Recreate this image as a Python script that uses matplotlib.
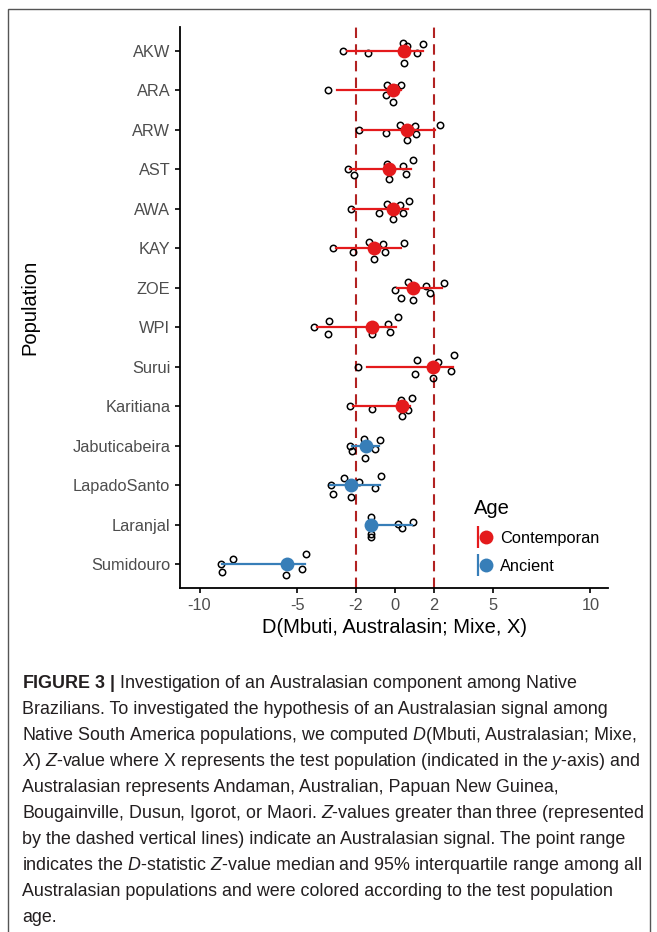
import matplotlib
matplotlib.use('Agg')
import matplotlib.pyplot as plt
from matplotlib import font_manager
from matplotlib.lines import Line2D
from matplotlib.legend_handler import HandlerTuple
from matplotlib.patches import Rectangle

# population order (top to bottom) and their age class
populations = ['AKW', 'ARA', 'ARW', 'AST', 'AWA', 'KAY', 'ZOE', 'WPI', 'Surui',
               'Karitiana', 'Jabuticabeira', 'LapadoSanto', 'Laranjal', 'Sumidouro']
ages = ['Contemporan'] * 10 + ['Ancient'] * 4

# point range: median and interval
median_z = [0.46, -0.08, 0.60, -0.32, -0.08, -1.07, 0.94, -1.16, 1.96, 0.34, -1.50, -2.25, -1.25, -5.54]
low_z = [-2.47, -2.95, -1.70, -2.30, -2.13, -3.02, 0.09, -4.01, -1.45, -2.13, -2.22, -3.32, -1.30, -8.87]
high_z = [1.42, 0.30, 2.05, 0.82, 0.68, 0.31, 2.39, 0.05, 2.95, 0.77, -0.82, -0.77, 0.85, -4.60]

# Z-values for each Australasian population (7 per test population)
point_z = [
    [-2.64, -1.40, 0.43, 0.60, 1.14, 1.45, 0.44],
    [-3.41, -0.39, 0.31, -0.46, -0.08, -0.15, 0.05],
    [-1.82, -0.48, 0.26, 1.02, 1.06, 0.60, 2.30],
    [-2.42, -2.08, -0.43, 0.43, 0.90, 0.56, -0.31],
    [-2.27, -0.80, -0.39, 0.26, 0.73, 0.43, -0.08],
    [-3.16, -2.17, -1.31, -0.60, 0.46, -0.49, -1.07],
    [0.00, 0.65, 1.59, 1.79, 2.51, 0.31, 0.94],
    [-4.13, -3.38, -3.41, -1.16, -0.38, -0.24, 0.14],
    [-1.91, 1.11, 1.02, 2.22, 2.85, 3.02, 1.96],
    [-2.30, -1.19, 0.31, 0.85, 0.68, 0.36, 0.40],
    [-2.30, -2.18, -1.59, -1.01, -0.77, -1.52, -1.45],
    [-3.29, -3.19, -2.59, -1.82, -1.01, -0.70, -2.25],
    [-1.25, -1.25, -1.25, 0.17, 0.34, 0.90, -1.30],
    [-8.92, -8.87, -8.27, -5.58, -4.74, -4.57, -5.50],
]
# vertical jitter of those points (in rows, + is down)
jitter = [
    [0, 0.07, -0.20, -0.13, 0.07, -0.18, 0.30],
    [0, -0.13, -0.12, 0.12, 0.30, 0.03, -0.05],
    [0, 0.08, -0.12, -0.10, 0.11, 0.25, -0.12],
    [0, 0.14, -0.14, -0.08, -0.24, 0.12, 0.26],
    [0, 0.12, -0.13, -0.10, -0.20, 0.10, 0.25],
    [0, 0.10, -0.15, -0.11, -0.13, 0.10, 0.27],
    [0.05, -0.15, -0.05, 0.14, -0.12, 0.25, 0.30],
    [0, -0.15, 0.17, 0.17, -0.08, 0.11, -0.25],
    [0, -0.18, 0.19, -0.11, 0.10, -0.29, 0.28],
    [0, 0.06, -0.15, -0.21, 0.10, 0.25, -0.05],
    [0, 0.13, -0.18, 0.07, -0.14, 0.30, 0],
    [0, 0.21, -0.18, -0.08, 0.08, -0.23, 0.30],
    [-0.20, 0.24, 0.32, -0.03, 0.07, -0.08, 0],
    [0, 0.19, -0.14, 0.26, 0.11, -0.25, 0],
]

age_colors = {'Contemporan': '#E41A1C', 'Ancient': '#377EB8'}
threshold = 2

caption = [
    r'$\mathbf{FIGURE\ 3\ |}$ Investigation of an Australasian component among Native',
    'Brazilians. To investigated the hypothesis of an Australasian signal among',
    r'Native South America populations, we computed $\mathit{D}$(Mbuti, Australasian; Mixe,',
    r'$\mathit{X}$) $\mathit{Z}$-value where X represents the test population (indicated in the $\mathit{y}$-axis) and',
    'Australasian represents Andaman, Australian, Papuan New Guinea,',
    r'Bougainville, Dusun, Igorot, or Maori. $\mathit{Z}$-values greater than three (represented',
    'by the dashed vertical lines) indicate an Australasian signal. The point range',
    r'indicates the $\mathit{D}$-statistic $\mathit{Z}$-value median and 95% interquartile range among all',
    'Australasian populations and were colored according to the test population',
    'age.',
]

# fonts
names = {f.name for f in font_manager.fontManager.ttflist}
cap_font = 'Liberation Sans Narrow' if 'Liberation Sans Narrow' in names else 'Liberation Sans'
plt.rcParams['font.family'] = ['Liberation Sans', 'DejaVu Sans']
plt.rcParams['axes.unicode_minus'] = False
plt.rcParams['mathtext.fontset'] = 'custom'
plt.rcParams['mathtext.it'] = cap_font + ':italic'
plt.rcParams['mathtext.rm'] = cap_font
plt.rcParams['mathtext.bf'] = 'Liberation Sans:bold'

W, H = 657, 932
fig = plt.figure(figsize=(W / 100, H / 100), dpi=100)
ax = fig.add_axes([180 / W, 1 - 588 / H, (608 - 180) / W, (588 - 27) / H])

rows = list(range(len(populations)))

# jittered raw points
for i in rows:
    ys = [i + j for j in jitter[i]]
    ax.plot(point_z[i], ys, 'o', ls='none', mfc='none', mec='black',
            ms=4.6, mew=1.1, zorder=2)

# dashed threshold lines
for t in (-threshold, threshold):
    ax.axvline(t, color='#B22222', lw=1.5, ls=(0, (5, 3)), zorder=1)

# point ranges
for i in rows:
    c = age_colors[ages[i]]
    ax.plot([low_z[i], high_z[i]], [i, i], color=c, lw=1.6, zorder=3)
    ax.plot(median_z[i], i, 'o', color=c, ms=10, mew=0, zorder=4)

ax.set_xlim(-11.0, 10.9)
ax.set_ylim(len(populations) - 0.4, -0.6)
ax.set_xticks([-10, -5, -2, 0, 2, 5, 10])
ax.set_yticks(rows)
ax.set_yticklabels(populations)
ax.tick_params(labelsize=11.8, colors='#4D4D4D', length=3.5, width=1.2)
ax.tick_params(axis='both', color='black')
for s in ['top', 'right']:
    ax.spines[s].set_visible(False)
for s in ['left', 'bottom']:
    ax.spines[s].set_linewidth(1.3)
ax.set_xlabel('D(Mbuti, Australasin; Mixe, X)', fontsize=14.5, labelpad=4)
ax.set_ylabel('Population', fontsize=14.5, labelpad=24)

handles = []
labels = []
for age in ['Contemporan', 'Ancient']:
    c = age_colors[age]
    bar = Line2D([], [], ls='none', marker='|', color=c, ms=16, mew=1.6)
    dot = Line2D([], [], ls='none', marker='o', color=c, ms=10, mew=0)
    handles.append((bar, dot))
    labels.append(age)
leg = ax.legend(handles, labels, title='Age', loc='upper left',
                bbox_to_anchor=(474 / W, 1 - 499 / H), bbox_transform=fig.transFigure,
                frameon=False, fontsize=11.8, title_fontsize=14.5, alignment='left',
                handlelength=1.0, handletextpad=0.6, labelspacing=0.8, borderpad=0,
                borderaxespad=0, handler_map={tuple: HandlerTuple(ndivide=None)})

# caption
for k, line in enumerate(caption):
    fig.text(22 / W, 1 - (683 + 26 * k) / H, line, fontsize=12.9, family=cap_font,
             color='#231F20', va='center', ha='left')

# figure frame
fig.patches.append(Rectangle((8 / W, -0.05), (650 - 8) / W, 1.05 - 9 / H,
                             transform=fig.transFigure, fill=False,
                             ec='#555555', lw=1.0))

fig.savefig('out.png', dpi=100)
